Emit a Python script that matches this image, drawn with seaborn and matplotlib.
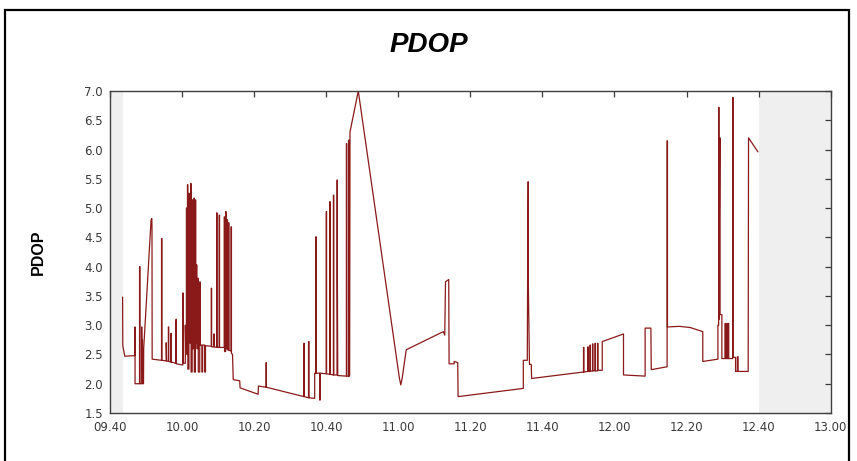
import matplotlib
matplotlib.use("Agg")
import matplotlib.pyplot as plt
from matplotlib.patches import Rectangle
import seaborn as sns
import pandas as pd

# Receiver PDOP log; time is minutes elapsed since 09:40
elapsed_min = [
    3.5, 3.55, 4.1, 6.9, 6.9, 6.95, 6.95, 8.2, 8.2, 8.3, 8.3, 8.8, 8.8, 8.85, 9.0, 9.05,
    9.3, 9.35, 11.4, 11.6, 11.65, 11.7,
    14.3, 14.3, 14.4, 14.4, 15.6, 15.6, 15.7, 16.2, 16.2, 16.3, 16.3, 16.9, 16.9, 17.0, 17.0,
    18.3, 18.3, 18.4, 18.4, 20.2, 20.2, 20.3, 20.3,
    20.9, 20.9, 21.0, 21.2, 21.2, 21.3, 21.3, 21.5, 21.5, 21.6, 21.6, 21.9, 21.9, 22.0, 22.0,
    22.4, 22.4, 22.5, 22.5, 22.8, 22.8, 22.9, 22.9, 23.3, 23.3, 23.4, 23.4, 23.7, 23.7, 23.8,
    23.8, 24.0, 24.0, 24.1, 24.1, 24.4, 24.4, 24.5, 24.5, 24.9, 24.9, 25.0, 25.0,
    25.5, 25.5, 25.7, 25.7, 26.3, 26.3, 26.5, 26.5, 28.1, 28.1, 28.2, 28.2, 28.8, 28.8, 28.9,
    28.9, 29.6, 29.6, 29.7, 29.7, 30.3, 30.3, 30.4, 30.4, 31.7, 31.7, 31.8, 31.8, 32.1, 32.1,
    32.2, 32.2, 32.5, 32.5, 32.6, 32.6, 32.9, 32.9, 33.0, 33.0, 33.6, 33.6, 33.7, 33.7, 34.0,
    34.2, 36.0, 36.1, 41.1, 41.2,
    43.3, 43.3, 43.4, 43.4, 53.8, 53.8, 53.9, 53.9, 55.1, 55.1, 55.2, 55.2, 56.8, 56.8, 57.1,
    57.1, 57.2, 57.2, 58.2, 58.2, 58.3, 58.3, 60.0, 60.0, 60.1, 60.1, 61.0, 61.0, 61.1, 61.1,
    62.0, 62.0, 62.1, 62.1, 63.0, 63.0, 63.1, 63.1, 63.2, 65.6, 65.6, 65.7, 65.7, 66.2, 66.2,
    66.3, 66.3, 66.5, 66.6, 68.9,
    80.3, 80.7, 81.1, 82.2, 92.5, 92.9, 93.1, 94.0, 94.1, 95.5, 95.5, 96.5, 96.6,
    114.7, 114.7, 115.8, 116.0, 116.1, 116.1, 116.4, 116.9, 117.0,
    131.4, 131.4, 131.5, 131.5, 132.6, 132.6, 132.7, 132.7, 133.2, 133.2, 133.3, 133.3, 133.9,
    133.9, 134.0, 134.0, 134.6, 134.6, 134.7, 134.7, 135.3, 135.3, 135.4, 135.4, 136.6, 136.6,
    142.5, 142.5, 148.5, 148.5, 150.1, 150.2, 154.6, 154.6, 154.7, 154.7, 158.0, 161.0,
    164.5, 164.5, 168.7, 168.7, 168.9, 168.9, 169.0, 169.0, 169.2, 169.3, 169.3, 169.8, 169.8,
    170.7, 170.7, 170.8, 170.8, 171.2, 171.2, 171.3, 171.3, 171.6, 171.6, 171.7, 171.7, 172.8,
    172.8, 172.9, 172.9, 173.6, 173.6, 174.1, 174.1, 174.3, 174.3, 177.1, 177.2, 179.8,
]
pdop = [
    3.48, 2.65, 2.47, 2.48, 2.97, 2.97, 2.0, 2.0, 4.0, 4.0, 2.0, 2.0, 2.97, 2.2, 2.75, 2.0,
    2.0, 2.6, 4.8, 4.82, 4.68, 2.42,
    2.4, 4.48, 4.48, 2.4, 2.39, 2.7, 2.39, 2.38, 2.97, 2.97, 2.38, 2.37, 2.86, 2.86, 2.37,
    2.35, 3.1, 3.1, 2.34, 2.32, 3.55, 3.55, 2.35,
    2.35, 3.0, 2.6, 2.6, 5.0, 5.0, 2.5, 2.5, 5.4, 5.4, 2.25, 2.25, 5.25, 5.25, 2.7,
    2.7, 5.42, 5.42, 2.2, 2.2, 5.14, 5.14, 2.6, 2.6, 5.17, 5.17, 2.2, 2.2, 5.14, 5.14,
    2.7, 2.7, 4.03, 4.03, 2.6, 2.6, 3.8, 3.8, 2.2, 2.2, 3.74, 3.74, 2.66,
    2.66, 2.2, 2.2, 2.66, 2.66, 2.2, 2.2, 2.65, 2.64, 3.63, 3.63, 2.63, 2.63, 2.85, 2.85,
    2.63, 2.62, 4.92, 4.92, 2.62, 2.62, 4.88, 4.88, 2.62, 2.62, 4.85, 4.85, 2.55, 2.55, 4.94,
    4.94, 2.6, 2.6, 4.8, 4.8, 2.58, 2.58, 4.75, 4.75, 2.57, 2.56, 4.68, 4.68, 2.52, 2.5,
    2.07, 2.05, 1.93, 1.82, 1.96,
    1.94, 2.36, 2.36, 1.94, 1.78, 2.69, 2.69, 1.78, 1.76, 2.72, 2.72, 1.76, 1.75, 2.18, 2.18,
    4.51, 4.51, 2.18, 2.18, 1.72, 1.72, 2.18, 2.17, 4.94, 4.94, 2.17, 2.16, 5.11, 5.11, 2.16,
    2.15, 5.22, 5.22, 2.15, 2.15, 5.48, 5.48, 3.77, 2.14, 2.13, 6.1, 6.1, 2.13, 2.13, 6.16,
    6.16, 2.13, 2.13, 6.3, 7.0,
    2.1, 1.98, 2.1, 2.58, 2.89, 2.83, 3.74, 3.78, 2.34, 2.34, 2.38, 2.36, 1.78,
    1.92, 2.4, 2.4, 5.45, 5.45, 3.65, 2.33, 2.33, 2.09,
    2.2, 2.62, 2.62, 2.2, 2.21, 2.63, 2.63, 2.21, 2.21, 2.66, 2.66, 2.21, 2.22,
    2.68, 2.68, 2.22, 2.22, 2.69, 2.69, 2.22, 2.22, 2.69, 2.69, 2.23, 2.23, 2.72,
    2.85, 2.15, 2.13, 2.95, 2.95, 2.24, 2.29, 6.15, 6.15, 2.97, 2.98, 2.96,
    2.89, 2.38, 2.42, 3.0, 3.0, 6.72, 6.72, 3.1, 6.2, 6.2, 3.18, 3.18, 2.43,
    2.43, 3.03, 3.03, 2.43, 2.43, 3.03, 3.03, 2.43, 2.43, 3.03, 3.03, 2.43, 2.43,
    6.89, 6.89, 2.45, 2.45, 2.21, 2.21, 2.46, 2.46, 2.21, 2.21, 6.2, 5.96,
]

# Periods without logged data (minutes since 09:40)
no_data_spans = [(0.0, 3.5), (180.0, 200.0)]

x_ticks = [0, 20, 40, 60, 80, 100, 120, 140, 160, 180, 200]
x_tick_labels = ["09.40", "10.00", "10.20", "10.40", "11.00", "11.20",
                 "11.40", "12.00", "12.20", "12.40", "13.00"]
y_ticks = [1.5, 2.0, 2.5, 3.0, 3.5, 4.0, 4.5, 5.0, 5.5, 6.0, 6.5, 7.0]

df = pd.DataFrame({"t": elapsed_min, "pdop": pdop})

sns.set_theme(style="white")
plt.rcParams["font.family"] = ["DejaVu Sans"]

fig = plt.figure(figsize=(8.57, 4.61), dpi=100)
fig.patch.set_facecolor("white")
ax = fig.add_axes([110 / 857, 1 - 413 / 461, 720.7 / 857, 322 / 461])

for a, b in no_data_spans:
    ax.axvspan(a, b, color="#efefef", lw=0, zorder=0)

sns.lineplot(data=df, x="t", y="pdop", sort=False, estimator=None,
             color="#8a1a1a", linewidth=0.9, ax=ax)

ax.set_xlim(0, 200)
ax.set_ylim(1.5, 7.0)
ax.set_xticks(x_ticks)
ax.set_xticklabels(x_tick_labels)
ax.set_yticks(y_ticks)
ax.set_yticklabels([f"{v:.1f}" for v in y_ticks])
ax.set_xlabel("")
ax.set_ylabel("")

ax.tick_params(direction="in", length=4, width=0.9, colors="#3a3a3a",
               labelsize=8.5, top=True, right=True, labeltop=False, labelright=False)
ax.tick_params(axis="x", pad=6)
ax.tick_params(axis="y", pad=5)
for s in ax.spines.values():
    s.set_visible(True)
    s.set_color("#404040")
    s.set_linewidth(1.0)

fig.text(0.5, 1 - 45 / 461, "PDOP", ha="center", va="center", fontsize=20,
         color="black", fontweight="bold", fontstyle="italic",
         family=["Liberation Sans", "DejaVu Sans"])
fig.text(38 / 857, 1 - 252 / 461, "PDOP", ha="center", va="center", rotation=90,
         color="black", fontsize=11.5, fontweight="bold",
         family=["Liberation Sans", "DejaVu Sans"])

# Outer frame around the figure panel
fig.add_artist(Rectangle((5 / 857, -0.05), (849 - 5) / 857, 1.05 - 10 / 461,
                         transform=fig.transFigure, fill=False, edgecolor="black",
                         linewidth=1.6, clip_on=False))

fig.savefig("out.png", dpi=100, facecolor="white")
